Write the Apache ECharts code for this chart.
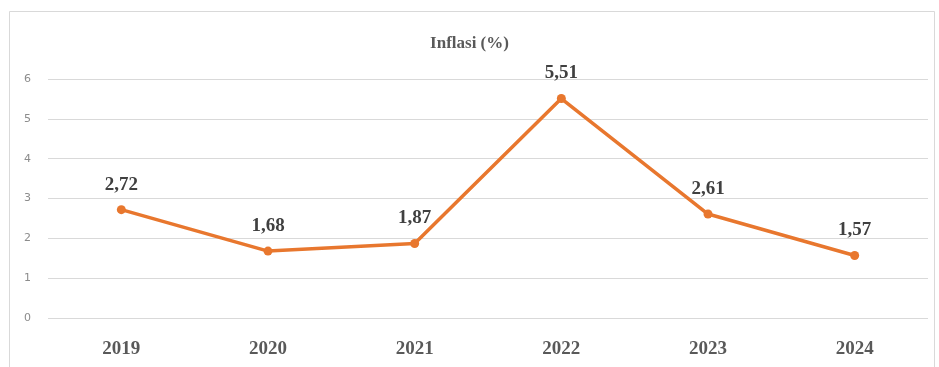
<!DOCTYPE html>
<html>
<head>
<meta charset="utf-8">
<script src="https://cdn.jsdelivr.net/npm/echarts@6/dist/echarts.min.js"></script>
<style>
  html, body { margin: 0; padding: 0; background: #fff; }
  #main { width: 939px; height: 367px; }
</style>
</head>
<body>
<div id="main"></div>
<script>
var years = ["2019", "2020", "2021", "2022", "2023", "2024"];
var inflasi = [2.72, 1.68, 1.87, 5.51, 2.61, 1.57];
var yTicks = [0, 1, 2, 3, 4, 5, 6];

var myChart = echarts.init(document.getElementById('main'));
var option = {
  backgroundColor: '#fff',
  animation: false,
  title: {
    text: 'Inflasi (%)',
    left: 'center',
    top: 30,
    textStyle: {
      fontFamily: 'Liberation Serif',
      fontSize: 17,
      fontWeight: 'bold',
      color: '#595959'
    }
  },
  graphic: [{
    type: 'rect',
    shape: { x: 9.5, y: 11.5, width: 925, height: 370 },
    style: { fill: 'none', stroke: '#d9d9d9', lineWidth: 1 },
    silent: true
  }],
  grid: { left: 48, right: 11, top: 79, bottom: 49 },
  xAxis: {
    type: 'category',
    data: years,
    axisLine: { show: false },
    axisTick: { show: false },
    axisLabel: {
      margin: 22,
      fontFamily: 'Liberation Serif',
      fontSize: 19,
      fontWeight: 'bold',
      color: '#595959'
    }
  },
  yAxis: {
    type: 'value',
    min: yTicks[0],
    max: yTicks[yTicks.length - 1],
    interval: 1,
    axisLine: { show: false },
    axisTick: { show: false },
    axisLabel: {
      margin: 17,
      fontFamily: 'DejaVu Sans',
      fontSize: 11,
      color: '#8c8c8c'
    },
    splitLine: { lineStyle: { color: '#d9d9d9', width: 1 } }
  },
  series: [{
    type: 'line',
    data: inflasi,
    symbol: 'circle',
    symbolSize: 9,
    lineStyle: { color: '#E8772E', width: 3.5 },
    itemStyle: { color: '#E8772E' },
    label: {
      show: true,
      position: 'top',
      distance: 11,
      fontFamily: 'Liberation Serif',
      fontSize: 19,
      fontWeight: 'bold',
      color: '#404040',
      formatter: function (p) { return String(p.value).replace('.', ','); }
    }
  }]
};
myChart.setOption(option);
</script>
</body>
</html>
